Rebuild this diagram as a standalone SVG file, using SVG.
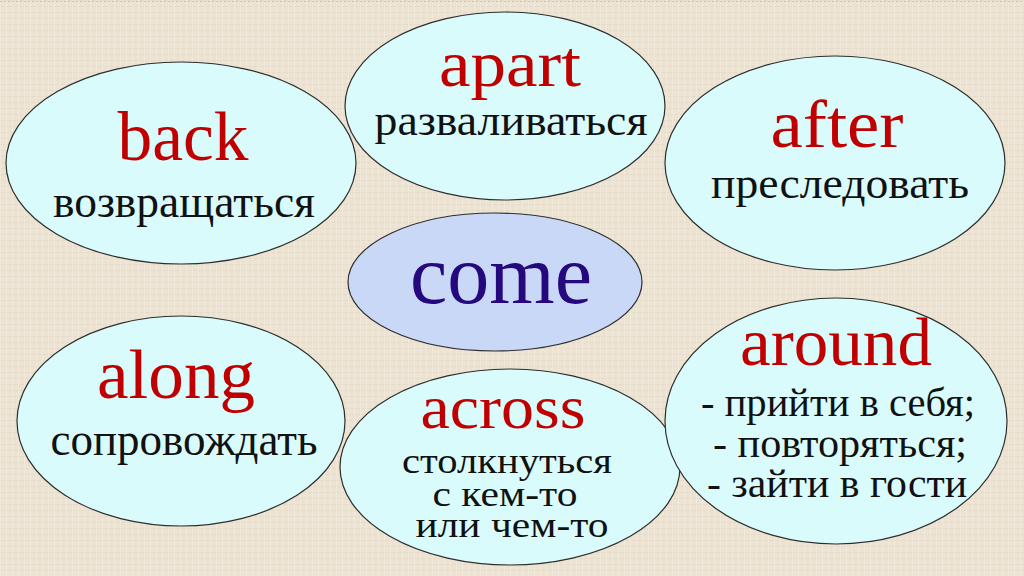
<svg xmlns="http://www.w3.org/2000/svg" width="1024" height="576" viewBox="0 0 1024 576">
  <defs>
    <pattern id="canvas" width="6" height="6" patternUnits="userSpaceOnUse">
      <rect width="6" height="6" fill="#ECE3D2"/>
      <rect x="0" y="0" width="6" height="1" fill="#E2D7C3" opacity="0.6"/>
      <rect x="0" y="0" width="1" height="6" fill="#F3ECDF" opacity="0.7"/>
    </pattern>
    <style>
      .node { fill: #DAFBFB; stroke: #2E2E2E; stroke-width: 1.2; }
      .center { fill: #C9D8F7; stroke: #2E2E2E; stroke-width: 1.2; }
      text { font-family: 'Liberation Serif', 'Times New Roman', 'DejaVu Serif', serif; text-anchor: middle; }
      .word { fill: #C00000; }
      .ru { fill: #111111; }
      .come { fill: #26087E; }
    </style>
  </defs>

  <rect width="1024" height="576" fill="url(#canvas)"/>
  <line x1="0" y1="1.5" x2="1024" y2="1.5" stroke="#CFC3AD" stroke-width="1" stroke-dasharray="2 2"/>

  <g id="connectors"></g>

  <g id="node-back">
    <ellipse class="node" cx="181" cy="163" rx="175" ry="101"/>
    <text class="word" x="183" y="160" font-size="69" textLength="131" lengthAdjust="spacingAndGlyphs">back</text>
    <text class="ru" x="184" y="217" font-size="46" textLength="262" lengthAdjust="spacingAndGlyphs">возвращаться</text>
  </g>

  <g id="node-apart">
    <ellipse class="node" cx="505" cy="106" rx="160" ry="94"/>
    <text class="word" x="510" y="86" font-size="66" textLength="142" lengthAdjust="spacingAndGlyphs">apart</text>
    <text class="ru" x="511" y="135" font-size="44" textLength="273" lengthAdjust="spacingAndGlyphs">разваливаться</text>
  </g>

  <g id="node-after">
    <ellipse class="node" cx="835" cy="163" rx="170" ry="107"/>
    <text class="word" x="837" y="147" font-size="68" textLength="133" lengthAdjust="spacingAndGlyphs">after</text>
    <text class="ru" x="840" y="198" font-size="44" textLength="258" lengthAdjust="spacingAndGlyphs">преследовать</text>
  </g>

  <g id="node-come">
    <ellipse class="center" cx="495" cy="282" rx="147" ry="69"/>
    <text class="come" x="501" y="303" font-size="84" textLength="182" lengthAdjust="spacingAndGlyphs">come</text>
  </g>

  <g id="node-across">
    <ellipse class="node" cx="510" cy="467" rx="170" ry="98"/>
    <text class="word" x="503" y="428" font-size="62" textLength="165" lengthAdjust="spacingAndGlyphs">across</text>
    <text class="ru" x="507" y="473" font-size="36" textLength="210" lengthAdjust="spacingAndGlyphs">столкнуться</text>
    <text class="ru" x="505" y="506" font-size="36" textLength="145" lengthAdjust="spacingAndGlyphs">с кем-то</text>
    <text class="ru" x="512" y="537" font-size="36" textLength="193" lengthAdjust="spacingAndGlyphs">или чем-то</text>
  </g>

  <g id="node-along">
    <ellipse class="node" cx="181" cy="421" rx="164" ry="105"/>
    <text class="word" x="176" y="398" font-size="70" textLength="158" lengthAdjust="spacingAndGlyphs">along</text>
    <text class="ru" x="184" y="455" font-size="46" textLength="267" lengthAdjust="spacingAndGlyphs">сопровождать</text>
  </g>

  <g id="node-around">
    <ellipse class="node" cx="836" cy="421" rx="171" ry="123"/>
    <text class="word" x="836" y="365" font-size="68" textLength="192" lengthAdjust="spacingAndGlyphs">around</text>
    <text class="ru" x="838" y="416" font-size="39" textLength="274" lengthAdjust="spacingAndGlyphs">- прийти в себя;</text>
    <text class="ru" x="840" y="457" font-size="39" textLength="254" lengthAdjust="spacingAndGlyphs">- повторяться;</text>
    <text class="ru" x="837" y="497" font-size="39" textLength="260" lengthAdjust="spacingAndGlyphs">- зайти в гости</text>
  </g>
</svg>
